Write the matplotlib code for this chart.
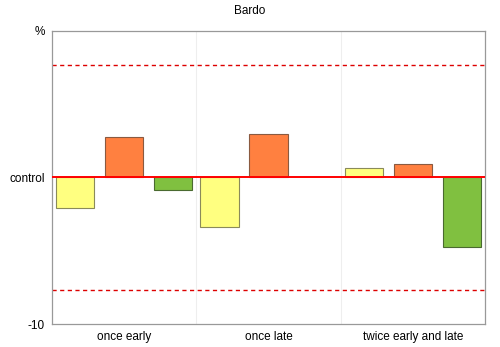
import numpy as np
import matplotlib
matplotlib.use('Agg')
import matplotlib.pyplot as plt

plt.rcParams['font.family'] = ['Liberation Sans', 'DejaVu Sans']

groups = ['once early', 'once late', 'twice early and late']
yellow = [-2.05, -3.4, 0.65]
orange = [2.75, 3.0, 0.9]
green = [-0.85, np.nan, -4.75]
limit = 7.7

x = np.arange(len(groups))
w = 0.265
off = 0.34

fig = plt.figure(figsize=(5, 3.47), dpi=100)
ax = fig.add_axes([0.104, 0.066, 0.866, 0.845])

ax.bar(x - off, yellow, w, color='#FFFF80', edgecolor='#8a8a5a', linewidth=0.8, zorder=3)
ax.bar(x, orange, w, color='#FF8040', edgecolor='#8a5a40', linewidth=0.8, zorder=3)
ax.bar(x + off, green, w, color='#80C040', edgecolor='#4a6a30', linewidth=0.8, zorder=3)

ax.axhline(0, color='#ff0000', lw=1.4, zorder=4)
ax.axhline(limit, color='#dd0000', lw=1, ls=(0, (3, 2.5)), zorder=2)
ax.axhline(-limit, color='#dd0000', lw=1, ls=(0, (3, 2.5)), zorder=2)

for s in [0.5, 1.5]:
    ax.axvline(s, color='#eeeeee', lw=0.8, zorder=1)

ax.set_xlim(-0.5, 2.5)
ax.set_ylim(-10, 10)
ax.set_yticks([-10, 0, 10])
ax.set_yticklabels(['-10', 'control', '%'], fontsize=8.5)
ax.set_xticks(x)
ax.set_xticklabels(groups, fontsize=8.5)
ax.tick_params(length=0, pad=5)
for sp in ax.spines.values():
    sp.set_color('#999999')
    sp.set_linewidth(0.9)

fig.suptitle('Bardo', fontsize=8.5, y=0.985)

fig.savefig('out.png', dpi=100)
